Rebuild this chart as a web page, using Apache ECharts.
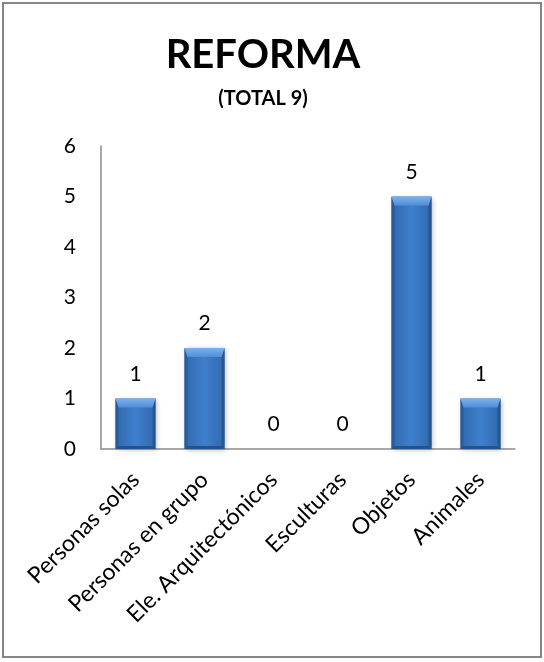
<!DOCTYPE html>
<html>
<head>
<meta charset="utf-8">
<script src="https://cdn.jsdelivr.net/npm/echarts@6/dist/echarts.min.js"></script>
<style>
  html, body { margin: 0; padding: 0; background: #fff; }
  #chart { width: 544px; height: 662px; }
</style>
</head>
<body>
<div id="chart"></div>
<script>
// Categories and counts for the "REFORMA" chart
const categories = ['Personas solas', 'Personas en grupo', 'Ele. Arquitectónicos', 'Esculturas', 'Objetos', 'Animales'];
const counts = [1, 2, 0, 0, 5, 1];
const yTicks = [0, 1, 2, 3, 4, 5, 6];

const FONT = 'Lato, "Open Sans", sans-serif';
const BAR_W = 40;
const BEVEL_TOP = 9;
const BEVEL_SIDE = 3;

const chart = echarts.init(document.getElementById('chart'));

// Bevelled bar: body, lighter top facet, darker side and bottom facets, value label
function renderBevelBar(params, api) {
  const idx = api.value(0);
  const val = api.value(1);
  const top = api.coord([idx, val]);
  const base = api.coord([idx, 0]);
  const x0 = top[0] - BAR_W / 2;
  const x1 = top[0] + BAR_W / 2;
  const y0 = top[1];
  const y1 = base[1];
  const children = [];
  if (y1 - y0 > 1) {
    const bt = Math.min(BEVEL_TOP, (y1 - y0) / 2);
    children.push({
      type: 'rect',
      shape: { x: x0, y: y0, width: BAR_W, height: y1 - y0 },
      style: {
        fill: new echarts.graphic.LinearGradient(0, 0, 1, 0, [
          { offset: 0, color: '#3069ae' },
          { offset: 0.5, color: '#3f7fcc' },
          { offset: 1, color: '#3069ae' }
        ]),
        shadowColor: 'rgba(0,0,0,0.28)',
        shadowBlur: 5,
        shadowOffsetX: 1,
        shadowOffsetY: 1
      }
    });
    // left facet
    children.push({
      type: 'polygon',
      shape: { points: [[x0, y0], [x0 + BEVEL_SIDE, y0 + bt], [x0 + BEVEL_SIDE, y1 - BEVEL_SIDE], [x0, y1]] },
      style: { fill: '#2a5c9c' }
    });
    // right facet
    children.push({
      type: 'polygon',
      shape: { points: [[x1, y0], [x1 - BEVEL_SIDE, y0 + bt], [x1 - BEVEL_SIDE, y1 - BEVEL_SIDE], [x1, y1]] },
      style: { fill: '#275791' }
    });
    // bottom facet
    children.push({
      type: 'polygon',
      shape: { points: [[x0, y1], [x0 + BEVEL_SIDE, y1 - BEVEL_SIDE], [x1 - BEVEL_SIDE, y1 - BEVEL_SIDE], [x1, y1]] },
      style: { fill: '#24538c' }
    });
    // top facet
    children.push({
      type: 'polygon',
      shape: { points: [[x0, y0], [x1, y0], [x1 - BEVEL_SIDE, y0 + bt], [x0 + BEVEL_SIDE, y0 + bt]] },
      style: {
        fill: new echarts.graphic.LinearGradient(0, 0, 0, 1, [
          { offset: 0, color: '#7cb1ec' },
          { offset: 1, color: '#518dd8' }
        ])
      }
    });
  }
  children.push({
    type: 'text',
    style: {
      text: String(val),
      x: top[0],
      y: y0 - 14,
      align: 'center',
      verticalAlign: 'bottom',
      font: '21px ' + FONT,
      fill: '#000'
    }
  });
  return { type: 'group', children: children };
}

chart.setOption({
  animation: false,
  backgroundColor: '#fff',
  title: [{
    text: 'REFORMA',
    left: 258,
    textAlign: 'center',
    top: 30,
    textStyle: { fontFamily: FONT, fontWeight: 'bold', fontSize: 40, color: '#000' }
  }, {
    text: '(TOTAL 9)',
    left: 258,
    textAlign: 'center',
    top: 84,
    textStyle: { fontFamily: FONT, fontWeight: 'bold', fontSize: 20, color: '#000' }
  }],
  graphic: [{
    type: 'rect',
    shape: { x: 3, y: 3, width: 538, height: 654 },
    style: { fill: 'none', stroke: '#878787', lineWidth: 2 },
    silent: true
  }],
  grid: { left: 101, right: 29, top: 146, bottom: 213 },
  xAxis: {
    type: 'category',
    data: categories,
    axisLine: { show: true, lineStyle: { color: '#8c8c8c', width: 1.5 } },
    axisTick: { show: false },
    axisLabel: {
      interval: 0,
      rotate: 45,
      margin: 27,
      fontFamily: FONT,
      fontSize: 23,
      color: '#000'
    }
  },
  yAxis: {
    type: 'value',
    min: yTicks[0],
    max: yTicks[yTicks.length - 1],
    interval: 1,
    splitLine: { show: false },
    axisLine: { show: true, lineStyle: { color: '#8c8c8c', width: 1.5 } },
    axisTick: { show: false },
    axisLabel: {
      margin: 25,
      fontFamily: FONT,
      fontSize: 21,
      color: '#000'
    }
  },
  series: [{
    type: 'custom',
    renderItem: renderBevelBar,
    encode: { x: 0, y: 1 },
    data: counts.map((v, i) => [i, v])
  }]
});
</script>
</body>
</html>
